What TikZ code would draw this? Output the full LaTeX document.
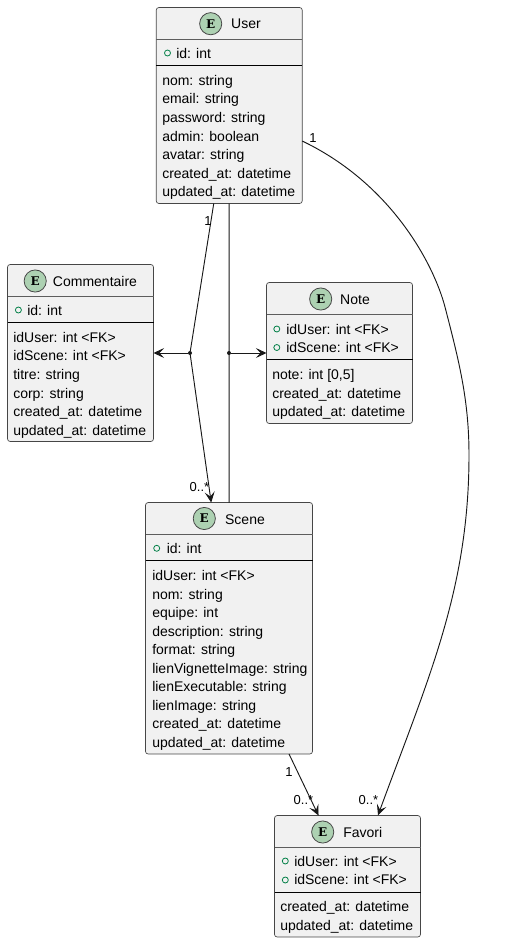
\documentclass[tikz,border=0pt]{standalone}
\usepackage{fontspec}
\setmainfont{Liberation Sans}
\newfontfamily\glyphfont{DejaVu Serif}
\usetikzlibrary{arrows.meta}
\definecolor{boxfill}{HTML}{F1F1F1}
\definecolor{boxline}{HTML}{181818}
\definecolor{badge}{HTML}{ADD1B2}
\definecolor{keygreen}{HTML}{038048}
\tikzset{
  x=0.75pt,y=-0.75pt,
  entity/.style={draw=boxline!80,fill=boxfill,line width=0.5pt,rounded corners=2pt,inner sep=0pt,outer sep=0pt},
  rowtext/.style={anchor=base west,inner sep=0pt,font=\fontsize{10.5}{12}\selectfont,text=black},
  title/.style={anchor=base,inner sep=0pt,font=\fontsize{10.5}{12}\selectfont,text=black},
  lab/.style={anchor=base,inner sep=0pt,font=\fontsize{9.75}{12}\selectfont,text=black},
  badgenode/.style={circle,draw=boxline!80,fill=badge,line width=0.6pt,minimum size=16.6pt,inner sep=0pt,font=\glyphfont\bfseries\fontsize{9}{10}\selectfont},
  key/.style={circle,draw=keygreen,line width=0.6pt,minimum size=4.5pt,inner sep=0pt},
  headline/.style={draw=boxline!70,line width=0.5pt},
  sepline/.style={draw=black,line width=0.75pt},
  link/.style={draw=boxline,line width=0.7pt},
  arr/.style={link,-{Stealth[length=8pt,width=7.5pt,inset=3.5pt]}},
  junction/.style={circle,fill=boxline,minimum size=3pt,inner sep=0pt,outer sep=0pt}
}
\begin{document}
\begin{tikzpicture}
\useasboundingbox (0,0) rectangle (526,943);
% entity boxes
\node[entity,minimum width=109.5pt,minimum height=147pt] (user) at (229.25,105.5) {};
\node[entity,minimum width=109.5pt,minimum height=132.75pt] (comm) at (80.5,353) {};
\node[entity,minimum width=109.5pt,minimum height=105.75pt] (note) at (339.5,353) {};
\node[entity,minimum width=125.25pt,minimum height=188.6pt] (scene) at (229,628.25) {};
\node[entity,minimum width=109.5pt,minimum height=91.1pt] (favori) at (347.5,876.25) {};
% separators
\draw[headline] (user.west |- 0,39.5) -- (user.east |- 0,39.5);
\draw[sepline] (user.west |- 0,65.5) -- (user.east |- 0,65.5);
\draw[headline] (comm.west |- 0,296.5) -- (comm.east |- 0,296.5);
\draw[sepline] (comm.west |- 0,322.5) -- (comm.east |- 0,322.5);
\draw[headline] (note.west |- 0,314.5) -- (note.east |- 0,314.5);
\draw[sepline] (note.west |- 0,359.5) -- (note.east |- 0,359.5);
\draw[headline] (scene.west |- 0,534.5) -- (scene.east |- 0,534.5);
\draw[sepline] (scene.west |- 0,560.5) -- (scene.east |- 0,560.5);
\draw[headline] (favori.west |- 0,847.5) -- (favori.east |- 0,847.5);
\draw[sepline] (favori.west |- 0,892.5) -- (favori.east |- 0,892.5);
% titles
\node[badgenode] (ub) at (210.7,23.7) {E};
\node[title] (ut) at (246,28.7) {User};
\node[badgenode] (cb) at (35.2,281) {E};
\node[title] (ct) at (95,286) {Commentaire};
\node[badgenode] (nb) at (320.7,299) {E};
\node[title] (nt) at (355,304) {Note};
\node[badgenode] (sb) at (204.3,518.5) {E};
\node[title] (st) at (245,524) {Scene};
\node[badgenode] (fb) at (322.7,832) {E};
\node[title] (ft) at (362.7,837) {Favori};
% User rows
\node[key] (uk) at (167.5,53) {};
\node[rowtext] (u0) at (176,58) {id: int};
\node[rowtext] (u1) at (162,85) {nom: string};
\node[rowtext] (u2) at (162,103) {email: string};
\node[rowtext] (u3) at (162,122) {password: string};
\node[rowtext] (u4) at (162,141) {admin: boolean};
\node[rowtext] (u5) at (162,159) {avatar: string};
\node[rowtext] (u6) at (162,178) {created\_at: datetime};
\node[rowtext] (u7) at (162,196) {updated\_at: datetime};
% Commentaire rows
\node[key] (ck) at (18.4,310) {};
\node[rowtext] (c0) at (27,315) {id: int};
\node[rowtext] (c1) at (13,342) {idUser: int <FK>};
\node[rowtext] (c2) at (13,360.5) {idScene: int <FK>};
\node[rowtext] (c3) at (13,379) {titre: string};
\node[rowtext] (c4) at (13,398) {corp: string};
\node[rowtext] (c5) at (13,416) {created\_at: datetime};
\node[rowtext] (c6) at (13,435) {updated\_at: datetime};
% Note rows
\node[key] (nk1) at (276.8,329) {};
\node[rowtext] (n1) at (286,334) {idUser: int <FK>};
\node[key] (nk2) at (276.8,347.5) {};
\node[rowtext] (n2) at (286,352.5) {idScene: int <FK>};
\node[rowtext] (n3) at (272,379) {note: int [0,5]};
\node[rowtext] (n4) at (272,398) {created\_at: datetime};
\node[rowtext] (n5) at (272,416) {updated\_at: datetime};
% Scene rows
\node[key] (sk) at (156.7,548.3) {};
\node[rowtext] (s0) at (166.5,553) {id: int};
\node[rowtext] (s1) at (152,580) {idUser: int <FK>};
\node[rowtext] (s2) at (152,599) {nom: string};
\node[rowtext] (s3) at (152,617) {equipe: int};
\node[rowtext] (s4) at (152,636) {description: string};
\node[rowtext] (s5) at (152,654) {format: string};
\node[rowtext] (s6) at (152,673) {lienVignetteImage: string};
\node[rowtext] (s7) at (152,691) {lienExecutable: string};
\node[rowtext] (s8) at (152,710) {lienImage: string};
\node[rowtext] (s9) at (152,728) {created\_at: datetime};
\node[rowtext] (s10) at (152,747) {updated\_at: datetime};
% Favori rows
\node[key] (fk1) at (285.3,861) {};
\node[rowtext] (f1) at (294,866) {idUser: int <FK>};
\node[key] (fk2) at (285.3,880) {};
\node[rowtext] (f2) at (294,884.5) {idScene: int <FK>};
\node[rowtext] (f3) at (280,911) {created\_at: datetime};
\node[rowtext] (f4) at (280,930) {updated\_at: datetime};
% connectors
\node[junction] (j1) at (190,353) {};
\node[junction] (j2) at (229,353) {};
\coordinate (ue) at (302.2,141);
\coordinate (fn) at (378,815.3);
\draw[link] (user) -- (j1);
\draw[arr] (j1) -- (scene);
\draw[arr] (j1) -- (comm);
\draw[link] (user) -- (scene);
\draw[arr] (j2) -- (note);
\draw[arr] (scene) -- (favori);
\draw[arr] (ue) .. controls (392,184) and (434,265) .. (445,307) .. controls (459,361) and (469,400) .. (469,455) .. controls (469,590) and (428,679) .. (fn);
% connector labels
\node[lab] (l1) at (208,225) {1};
\node[lab] (l2) at (199.5,491) {0..*};
\node[lab] (l3) at (313,142) {1};
\node[lab] (l4) at (368.5,804) {0..*};
\node[lab] (l5) at (289,776.5) {1};
\node[lab] (l6) at (303.5,804) {0..*};
\end{tikzpicture}
\end{document}
